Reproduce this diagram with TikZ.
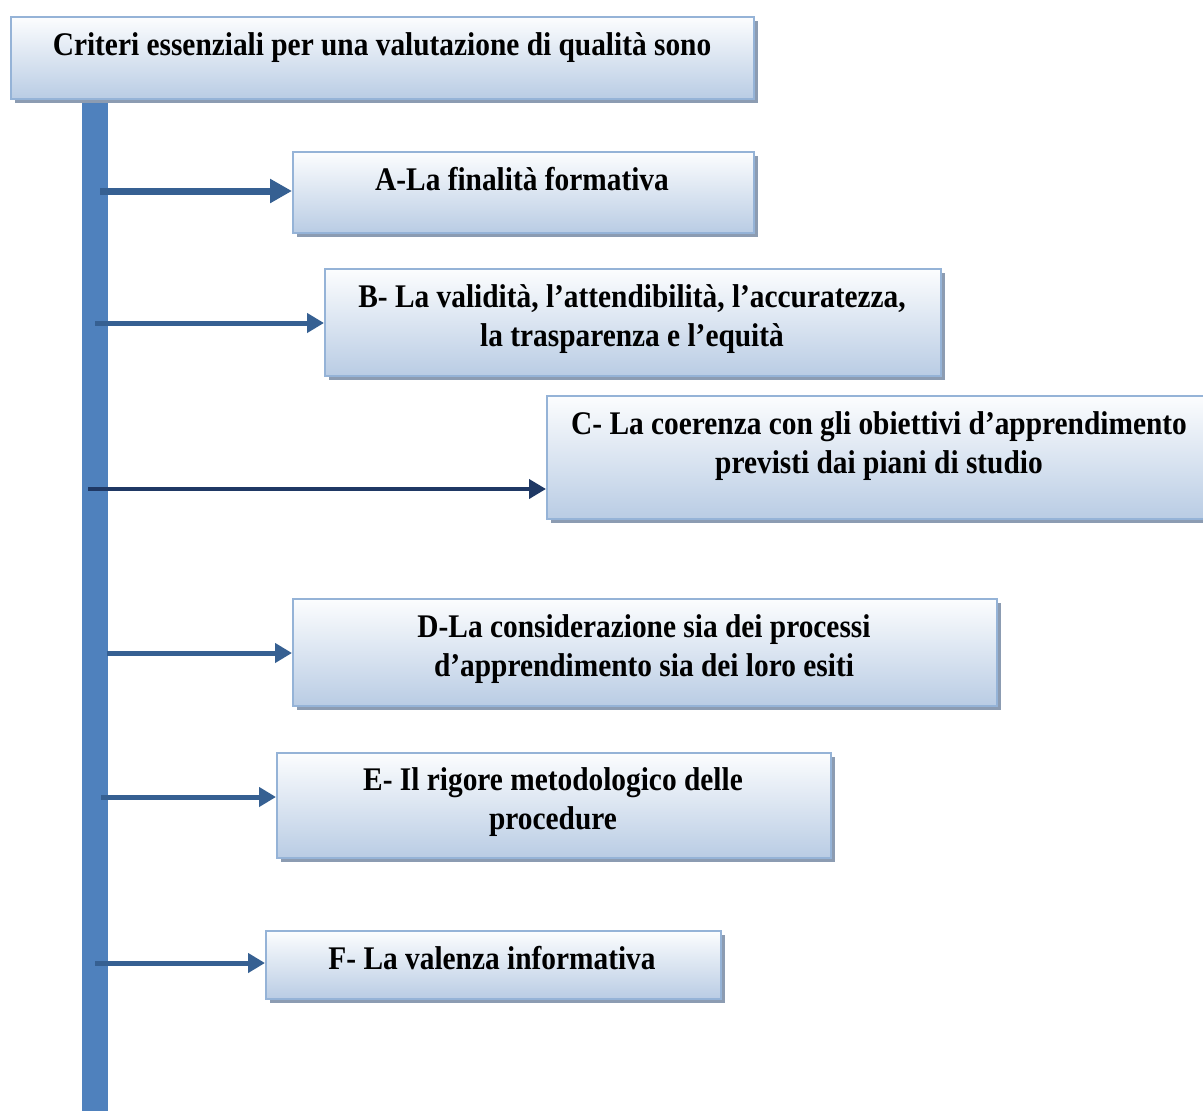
\documentclass[tikz,border=0pt]{standalone}
\usepackage{fontspec}
\setmainfont{Liberation Serif}[FakeStretch=0.89]
\usetikzlibrary{arrows.meta,shadows}
\definecolor{boxborder}{RGB}{149,179,215}
\definecolor{boxtop}{RGB}{252,253,254}
\definecolor{boxbot}{RGB}{185,204,228}
\definecolor{barblue}{RGB}{79,129,189}
\definecolor{arrblue}{RGB}{54,96,146}
\definecolor{arrnavy}{RGB}{31,56,100}
\definecolor{shadowc}{RGB}{140,156,178}
\tikzset{
  box/.style={draw=boxborder, line width=2pt, top color=boxtop, bottom color=boxbot,
    anchor=north west, inner sep=0pt,
    drop shadow={shadow xshift=4pt, shadow yshift=-4pt, fill=shadowc, opacity=1}},
  txt/.style={font=\bfseries\fontsize{33}{39}\selectfont, align=center, inner sep=0pt},
  conn/.style={draw=arrblue, line width=5pt, -{Triangle[length=17pt,width=19pt]}},
}
\begin{document}
\begin{tikzpicture}[x=1pt,y=-1pt]
\useasboundingbox (0,0) rectangle (1203,1111);
% vertical bar
\fill[barblue] (82,100) rectangle (108,1111);
% boxes
\node[box, minimum width=743pt, minimum height=82pt] (T) at (10,16) {};
\node[box, minimum width=461pt, minimum height=81pt] (A) at (292,151) {};
\node[box, minimum width=616pt, minimum height=107pt] (B) at (324,268) {};
\node[box, minimum width=670pt, minimum height=123pt] (C) at (546,395) {};
\node[box, minimum width=704pt, minimum height=107pt] (D) at (292,598) {};
\node[box, minimum width=554pt, minimum height=105pt] (E) at (276,752) {};
\node[box, minimum width=455pt, minimum height=68pt] (F) at (265,930) {};
% texts
\node[txt] (Tt) at (382,48) {Criteri essenziali per una valutazione di qualità sono};
\node[txt] (At) at (522,179) {A-La finalità formativa};
\node[txt] (Bt) at (632,319) {B- La validità, l’attendibilità, l’accuratezza,\\ la trasparenza e l’equità};
\node[txt] (Ct) at (879,446) {C- La coerenza con gli obiettivi d’apprendimento\\ previsti dai piani di studio};
\node[txt] (Dt) at (644,649) {D-La considerazione sia dei processi\\ d’apprendimento sia dei loro esiti};
\node[txt] (Et) at (553,802) {E- Il rigore metodologico delle\\ procedure};
\node[txt] (Ft) at (492,958) {F- La valenza informativa};
% arrow starts
\coordinate (sA) at (100,191);
\coordinate (sB) at (95,323);
\coordinate (sC) at (88,489);
\coordinate (sD) at (107,653);
\coordinate (sE) at (101,797);
\coordinate (sF) at (95,963);
% connectors
\draw[conn, line width=7pt, -{Triangle[length=22pt,width=23pt]}] (sA) -- (sA -| A.west);
\draw[conn] (sB) -- (sB -| B.west);
\draw[conn, draw=arrnavy, line width=4pt] (sC) -- (sC -| C.west);
\draw[conn] (sD) -- (sD -| D.west);
\draw[conn] (sE) -- (sE -| E.west);
\draw[conn] (sF) -- (sF -| F.west);
\end{tikzpicture}
\end{document}
